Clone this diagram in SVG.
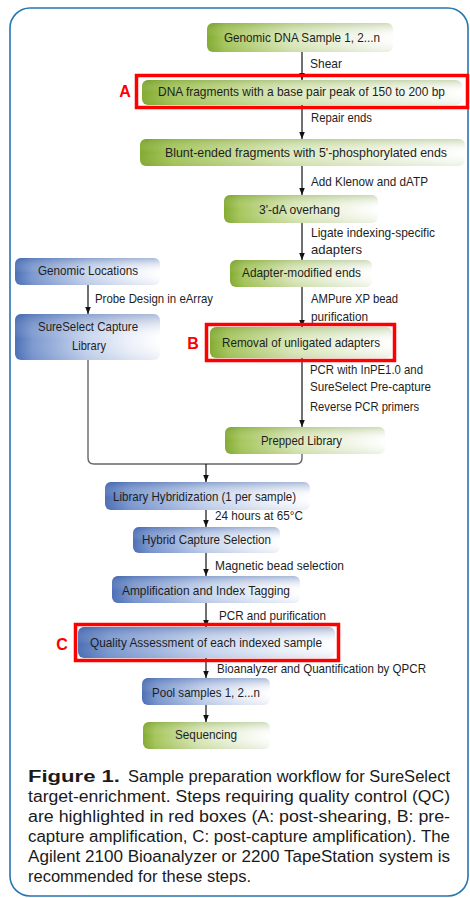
<svg xmlns="http://www.w3.org/2000/svg" width="470" height="898" viewBox="0 0 470 898">
<defs>
<style>
.t{font-family:"Liberation Sans",Arial,sans-serif;font-size:13px;fill:#1e1e1e}
.cap{font-family:"Liberation Sans",Arial,sans-serif;font-size:16px;fill:#1a1a1a}
.lbl{font-family:"Liberation Sans",Arial,sans-serif;font-size:16px;font-weight:bold;fill:#ff0000}
.gb{fill:url(#gH)}
.bb{fill:url(#bH)}
.go{fill:url(#gV)}
.bo{fill:url(#bV)}
.qc{fill:none;stroke:#ff0000;stroke-width:3.5}
.ln{fill:none;stroke:#111;stroke-width:1.2}
.br{fill:none;stroke:#666;stroke-width:1.4}
</style>
<linearGradient id="gH" x1="0" y1="0" x2="1" y2="0">
<stop offset="0" stop-color="#82aa30"/>
<stop offset="0.1" stop-color="#a6c65c"/>
<stop offset="0.45" stop-color="#dbe8bb"/>
<stop offset="0.8" stop-color="#f3f7ea"/>
<stop offset="1" stop-color="#ffffff"/>
</linearGradient>
<linearGradient id="bH" x1="0" y1="0" x2="1" y2="0">
<stop offset="0" stop-color="#4b6fb5"/>
<stop offset="0.12" stop-color="#7c98cf"/>
<stop offset="0.5" stop-color="#c9d6ee"/>
<stop offset="0.8" stop-color="#eef2fa"/>
<stop offset="1" stop-color="#ffffff"/>
</linearGradient>
<linearGradient id="gV" x1="0" y1="0" x2="0" y2="1">
<stop offset="0" stop-color="#5f8a1e" stop-opacity="0.3"/>
<stop offset="0.5" stop-color="#ffffff" stop-opacity="0"/>
<stop offset="1" stop-color="#5f8a1e" stop-opacity="0.12"/>
</linearGradient>
<linearGradient id="bV" x1="0" y1="0" x2="0" y2="1">
<stop offset="0" stop-color="#2f55a0" stop-opacity="0.4"/>
<stop offset="0.55" stop-color="#ffffff" stop-opacity="0"/>
<stop offset="1" stop-color="#2f55a0" stop-opacity="0.1"/>
</linearGradient>
<marker id="ah" viewBox="0 0 10 8" refX="10" refY="4" markerWidth="7" markerHeight="5.6" orient="auto" markerUnits="userSpaceOnUse">
<path d="M0,0 L10,4 L0,8 z" fill="#111"/>
</marker>
</defs>
<rect width="470" height="898" fill="#ffffff"/>
<rect x="10" y="8" width="458" height="888" rx="20" fill="none" stroke="#2676b0" stroke-width="1.6"/>

<g id="connectors">
<line class="ln" x1="302" y1="52" x2="302" y2="80" marker-end="url(#ah)"/>
<line class="ln" x1="302" y1="105" x2="302" y2="139" marker-end="url(#ah)"/>
<line class="ln" x1="302" y1="166" x2="302" y2="195" marker-end="url(#ah)"/>
<line class="ln" x1="302" y1="223" x2="302" y2="260" marker-end="url(#ah)"/>
<line class="ln" x1="302" y1="287" x2="302" y2="327" marker-end="url(#ah)"/>
<line class="ln" x1="302" y1="358" x2="302" y2="427" marker-end="url(#ah)"/>
<line class="ln" x1="88" y1="285" x2="88" y2="314" marker-end="url(#ah)"/>
<path class="br" d="M88,360 V458 Q88,464 94,464 H296 Q302,464 302,458 V454"/>
<line class="ln" x1="206" y1="464" x2="206" y2="482" marker-end="url(#ah)"/>
<line class="ln" x1="206" y1="510" x2="206" y2="527" marker-end="url(#ah)"/>
<line class="ln" x1="206" y1="553" x2="206" y2="576" marker-end="url(#ah)"/>
<line class="ln" x1="206" y1="603" x2="206" y2="627" marker-end="url(#ah)"/>
<line class="ln" x1="206" y1="658" x2="206" y2="678" marker-end="url(#ah)"/>
<line class="ln" x1="206" y1="705" x2="206" y2="722" marker-end="url(#ah)"/>
<text class="t" x="310" y="68" textLength="32" lengthAdjust="spacingAndGlyphs">Shear</text>
<text class="t" x="311" y="122" textLength="61" lengthAdjust="spacingAndGlyphs">Repair ends</text>
<text class="t" x="311" y="186" textLength="117" lengthAdjust="spacingAndGlyphs">Add Klenow and dATP</text>
<text class="t" x="311" y="237" textLength="124" lengthAdjust="spacingAndGlyphs">Ligate indexing-specific</text>
<text class="t" x="311" y="254" textLength="51" lengthAdjust="spacingAndGlyphs">adapters</text>
<text class="t" x="311" y="303" textLength="87" lengthAdjust="spacingAndGlyphs">AMPure XP bead</text>
<text class="t" x="311" y="321" textLength="57" lengthAdjust="spacingAndGlyphs">purification</text>
<text class="t" x="95" y="303" textLength="118" lengthAdjust="spacingAndGlyphs">Probe Design in eArray</text>
<text class="t" x="310" y="374" textLength="113" lengthAdjust="spacingAndGlyphs">PCR with InPE1.0 and</text>
<text class="t" x="310" y="391" textLength="121" lengthAdjust="spacingAndGlyphs">SureSelect Pre-capture</text>
<text class="t" x="310" y="411" textLength="109" lengthAdjust="spacingAndGlyphs">Reverse PCR primers</text>
<text class="t" x="215" y="520" textLength="88" lengthAdjust="spacingAndGlyphs">24 hours at 65°C</text>
<text class="t" x="215" y="570" textLength="129" lengthAdjust="spacingAndGlyphs">Magnetic bead selection</text>
<text class="t" x="219" y="620" textLength="107" lengthAdjust="spacingAndGlyphs">PCR and purification</text>
<text class="t" x="217" y="673" textLength="209" lengthAdjust="spacingAndGlyphs">Bioanalyzer and Quantification by QPCR</text>
</g>

<g id="n-genomic-dna">
<rect class="gb" x="207" y="23" width="186" height="29" rx="6"/>
<rect class="go" x="207" y="23" width="186" height="29" rx="6"/>
<text class="t" x="224" y="42" textLength="156" lengthAdjust="spacingAndGlyphs">Genomic DNA Sample 1, 2...n</text>
</g>
<g id="n-dna-fragments">
<rect class="gb" x="142" y="80" width="320" height="25" rx="6"/>
<rect class="go" x="142" y="80" width="320" height="25" rx="6"/>
<text class="t" x="158" y="96" textLength="287" lengthAdjust="spacingAndGlyphs">DNA fragments with a base pair peak of 150 to 200 bp</text>
</g>
<g id="n-blunt-ended">
<rect class="gb" x="140" y="139" width="325" height="27" rx="6"/>
<rect class="go" x="140" y="139" width="325" height="27" rx="6"/>
<text class="t" x="165" y="157" textLength="282" lengthAdjust="spacingAndGlyphs">Blunt-ended fragments with 5'-phosphorylated ends</text>
</g>
<g id="n-da-overhang">
<rect class="gb" x="224" y="195" width="154" height="28" rx="6"/>
<rect class="go" x="224" y="195" width="154" height="28" rx="6"/>
<text class="t" x="259" y="214" textLength="81" lengthAdjust="spacingAndGlyphs">3'-dA overhang</text>
</g>
<g id="n-adapter-modified">
<rect class="gb" x="230" y="260" width="142" height="27" rx="6"/>
<rect class="go" x="230" y="260" width="142" height="27" rx="6"/>
<text class="t" x="242" y="277" textLength="119" lengthAdjust="spacingAndGlyphs">Adapter-modified ends</text>
</g>
<g id="n-genomic-locations">
<rect class="bb" x="15" y="258" width="145" height="27" rx="6"/>
<rect class="bo" x="15" y="258" width="145" height="27" rx="6"/>
<text class="t" x="38" y="275" textLength="100" lengthAdjust="spacingAndGlyphs">Genomic Locations</text>
</g>
<g id="n-sureselect-library">
<rect class="bb" x="15" y="314" width="145" height="46" rx="6"/>
<rect class="bo" x="15" y="314" width="145" height="46" rx="6"/>
<text class="t" x="38" y="331" textLength="100" lengthAdjust="spacingAndGlyphs">SureSelect Capture</text>
<text class="t" x="72" y="350" textLength="34" lengthAdjust="spacingAndGlyphs">Library</text>
</g>
<g id="n-removal">
<rect class="gb" x="210" y="327" width="182" height="31" rx="6"/>
<rect class="go" x="210" y="327" width="182" height="31" rx="6"/>
<text class="t" x="222" y="347" textLength="158" lengthAdjust="spacingAndGlyphs">Removal of unligated adapters</text>
</g>
<g id="n-prepped-library">
<rect class="gb" x="225" y="427" width="160" height="27" rx="6"/>
<rect class="go" x="225" y="427" width="160" height="27" rx="6"/>
<text class="t" x="261" y="445" textLength="81" lengthAdjust="spacingAndGlyphs">Prepped Library</text>
</g>
<g id="n-library-hybridization">
<rect class="bb" x="105" y="482" width="205" height="28" rx="6"/>
<rect class="bo" x="105" y="482" width="205" height="28" rx="6"/>
<text class="t" x="113" y="501" textLength="183" lengthAdjust="spacingAndGlyphs">Library Hybridization (1 per sample)</text>
</g>
<g id="n-hybrid-capture">
<rect class="bb" x="133" y="527" width="147" height="26" rx="6"/>
<rect class="bo" x="133" y="527" width="147" height="26" rx="6"/>
<text class="t" x="142" y="544" textLength="129" lengthAdjust="spacingAndGlyphs">Hybrid Capture Selection</text>
</g>
<g id="n-amplification">
<rect class="bb" x="112" y="576" width="188" height="27" rx="6"/>
<rect class="bo" x="112" y="576" width="188" height="27" rx="6"/>
<text class="t" x="122" y="595" textLength="168" lengthAdjust="spacingAndGlyphs">Amplification and Index Tagging</text>
</g>
<g id="n-quality-assessment">
<rect class="bb" x="78" y="627" width="257" height="31" rx="6"/>
<rect class="bo" x="78" y="627" width="257" height="31" rx="6"/>
<text class="t" x="90" y="647" textLength="232" lengthAdjust="spacingAndGlyphs">Quality Assessment of each indexed sample</text>
</g>
<g id="n-pool-samples">
<rect class="bb" x="142" y="678" width="128" height="27" rx="6"/>
<rect class="bo" x="142" y="678" width="128" height="27" rx="6"/>
<text class="t" x="152" y="697" textLength="108" lengthAdjust="spacingAndGlyphs">Pool samples 1, 2...n</text>
</g>
<g id="n-sequencing">
<rect class="gb" x="143" y="722" width="127" height="27" rx="6"/>
<rect class="go" x="143" y="722" width="127" height="27" rx="6"/>
<text class="t" x="175" y="739" textLength="62" lengthAdjust="spacingAndGlyphs">Sequencing</text>
</g>

<g id="qc-highlights">
<rect class="qc" x="136.5" y="75.5" width="331" height="32"/>
<text class="lbl" x="125" y="97" text-anchor="middle">A</text>
<rect class="qc" x="206.5" y="324.5" width="188" height="36"/>
<text class="lbl" x="193" y="349" text-anchor="middle">B</text>
<rect class="qc" x="75.5" y="624.5" width="263" height="36"/>
<text class="lbl" x="62" y="650" text-anchor="middle">C</text>
</g>

<g id="caption">
<text class="cap" x="28" y="782" font-weight="bold" textLength="92" lengthAdjust="spacingAndGlyphs">Figure 1.</text>
<text class="cap" x="128" y="782" textLength="322" lengthAdjust="spacingAndGlyphs">Sample preparation workflow for SureSelect</text>
<text class="cap" x="28" y="802" textLength="422" lengthAdjust="spacingAndGlyphs">target-enrichment. Steps requiring quality control (QC)</text>
<text class="cap" x="28" y="822" textLength="422" lengthAdjust="spacingAndGlyphs">are highlighted in red boxes (A: post-shearing, B: pre-</text>
<text class="cap" x="28" y="842" textLength="422" lengthAdjust="spacingAndGlyphs">capture amplification, C: post-capture amplification).  The</text>
<text class="cap" x="28" y="862" textLength="422" lengthAdjust="spacingAndGlyphs">Agilent 2100 Bioanalyzer or 2200 TapeStation system is</text>
<text class="cap" x="28" y="882" textLength="223" lengthAdjust="spacingAndGlyphs">recommended for these steps.</text>
</g>
</svg>
